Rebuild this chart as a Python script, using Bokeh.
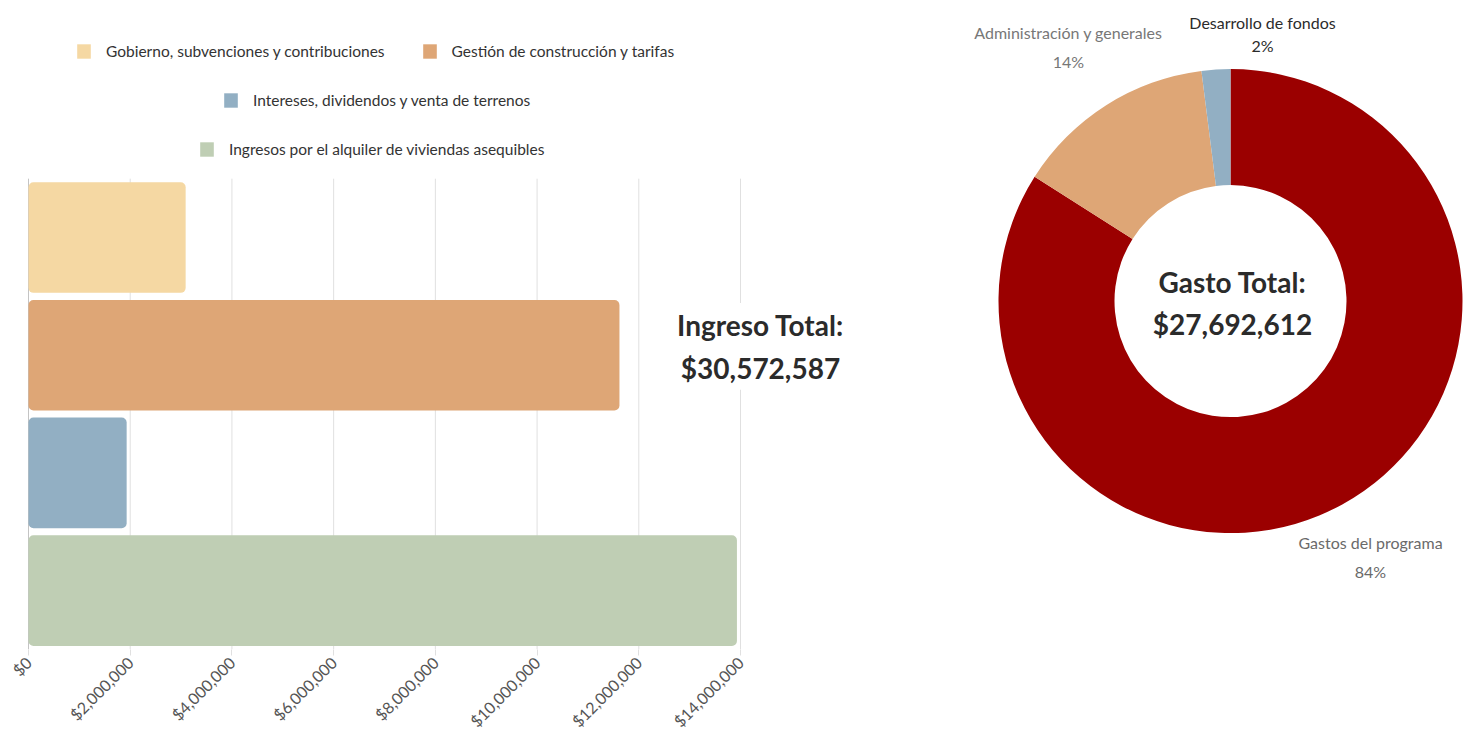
import math
from bokeh.plotting import figure
from bokeh.models import (Range1d, FixedTicker, NumeralTickFormatter,
                          Legend, LegendItem, Label, ColumnDataSource)
from bokeh.embed import file_html
from bokeh.resources import INLINE

# ---------------- data ----------------
income_categories = [
    "Gobierno, subvenciones y contribuciones",
    "Gestión de construcción y tarifas",
    "Intereses, dividendos y venta de terrenos",
    "Ingresos por el alquiler de viviendas asequibles",
]
income_values = [3090000, 11620000, 1930000, 13930000]
income_colors = ["#F5D8A3", "#DEA676", "#92AFC3", "#BFCEB4"]
income_title = "Ingreso Total:"
income_total = "$30,572,587"
x_ticks = [0, 2000000, 4000000, 6000000, 8000000, 10000000, 12000000, 14000000]

expense_categories = ["Gastos del programa", "Administración y generales", "Desarrollo de fondos"]
expense_pct = [84, 14, 2]
expense_colors = ["#9B0000", "#DEA676", "#92AFC3"]
expense_title = "Gasto Total:"
expense_total = "$27,692,612"

FONT = "Lato"

# ---------------- layout constants (pixels) ----------------
W, H = 1468, 740
FRAME_H = 652                 # frame spans y 0..652, x-axis below
BAR_LEFT, BAR_RIGHT = 28, 740  # screen x of $0 and $14,000,000
BAR_TOP = 179                 # screen y of top of bar area
BAND = (FRAME_H - BAR_TOP) / len(income_categories)
XMAX = x_ticks[-1]
u_per_px = XMAX / (BAR_RIGHT - BAR_LEFT)
x_start = -BAR_LEFT * u_per_px
x_end = x_start + W * u_per_px
n = len(income_categories)
y_start = -0.5
y_end = n - 0.5 + BAR_TOP / BAND

def sy(py):  # screen y -> bar-data y
    return y_end - py / BAND

DCX, DCY = 1230, 302          # donut centre on screen

p = figure(x_range=Range1d(x_start, x_end), y_range=Range1d(y_start, y_end),
           width=W, height=H, min_border_left=0, min_border_right=0, min_border_top=0,
           min_border_bottom=H - FRAME_H, output_backend="svg", toolbar_location=None)
p.extra_x_ranges = {"d": Range1d(-DCX, W - DCX)}
p.extra_y_ranges = {"d": Range1d(-(FRAME_H - DCY), DCY)}

p.yaxis.visible = False
p.xgrid.visible = False
p.ygrid.visible = False
p.outline_line_color = None
p.xaxis.ticker = FixedTicker(ticks=x_ticks)
p.xaxis.formatter = NumeralTickFormatter(format="$0,0")
p.xaxis.major_label_orientation = math.pi / 4
p.xaxis.major_label_text_font = FONT
p.xaxis.major_label_text_font_size = "16px"
p.xaxis.major_label_text_color = "#555555"
p.xaxis.axis_line_color = None
p.xaxis.major_tick_line_color = "#e0e0e0"
p.xaxis.major_tick_in = 0
p.xaxis.major_tick_out = 6
p.xaxis.minor_tick_line_color = None
p.xaxis.major_label_standoff = 4

# vertical grid lines over the bar area only (the $0 line a little darker)
grid_colors = ["#c4c4c4"] + ["#e0e0e0"] * (len(x_ticks) - 1)
p.segment(x0=x_ticks, x1=x_ticks, y0=[y_start] * len(x_ticks), y1=[n - 0.5] * len(x_ticks),
          line_color=grid_colors, line_width=1)

# bars
ypos = [n - 1 - i for i in range(n)]
src = ColumnDataSource(dict(y=ypos, val=income_values, color=income_colors, cat=income_categories))
bars = p.hbar(y="y", left=0, right="val", height=0.94, fill_color="color",
              line_color=None, border_radius=5, source=src)

# legend rows: (item indices, left x of glyph, centre y) in screen px
legend_rows = [([0, 1], 81, 53), ([2], 228, 102), ([3], 204, 151)]
PAD, GH = 6, 18
for idxs, lx, cy in legend_rows:
    leg = Legend(items=[LegendItem(label=income_categories[i], renderers=[bars], index=i) for i in idxs],
                 orientation="horizontal", location=(lx - PAD, FRAME_H - cy - GH / 2 - PAD + 5),
                 label_text_font=FONT, label_text_font_size="15.5px", label_text_color="#333333",
                 glyph_width=17, glyph_height=GH, label_height=GH, label_standoff=14,
                 spacing=36, padding=PAD, margin=0,
                 border_line_color=None, background_fill_alpha=0)
    p.add_layout(leg)

for txt, py in [(income_title, 326), (income_total, 369)]:
    p.add_layout(Label(x=(760 - BAR_LEFT) * u_per_px, y=sy(py), text=txt,
                       text_align="center", text_baseline="middle",
                       text_font=FONT, text_font_size="28px", text_font_style="bold",
                       text_color="#2b2b2b", background_fill_color="white", padding=5))

# donut
total = sum(expense_pct)
starts, ends, cum = [], [], 0.0
for v in expense_pct:
    starts.append(math.pi / 2 - 2 * math.pi * cum / total)
    cum += v
    ends.append(math.pi / 2 - 2 * math.pi * cum / total)
dsrc = ColumnDataSource(dict(start=starts, end=ends, color=expense_colors))
p.annular_wedge(x=0, y=0, inner_radius=116, outer_radius=232, start_angle="start", end_angle="end",
                direction="clock", fill_color="color", line_color=None, source=dsrc,
                x_range_name="d", y_range_name="d")

label_style = [  # (dx, dy of name line, dy of pct line, color, size) relative to donut centre
    (140, -243, -272, "#6a6a6a", "16px"),
    (-162, 270, 241, "#777777", "16px"),
    (32, 280, 257, "#2b2b2b", "16px"),
]
for name, pct, (dx, dy1, dy2, col, fs) in zip(expense_categories, expense_pct, label_style):
    for txt, dy in [(name, dy1), (f"{pct}%", dy2)]:
        p.add_layout(Label(x=dx, y=dy, text=txt, text_align="center", text_baseline="middle",
                           text_font=FONT, text_font_size=fs, text_color=col,
                           x_range_name="d", y_range_name="d"))

for txt, dy in [(expense_title, 19), (expense_total, -23)]:
    p.add_layout(Label(x=2, y=dy, text=txt, text_align="center", text_baseline="middle",
                       text_font=FONT, text_font_size="28px", text_font_style="bold",
                       text_color="#2b2b2b", x_range_name="d", y_range_name="d"))

open("out.html", "w").write(file_html(p, INLINE))
